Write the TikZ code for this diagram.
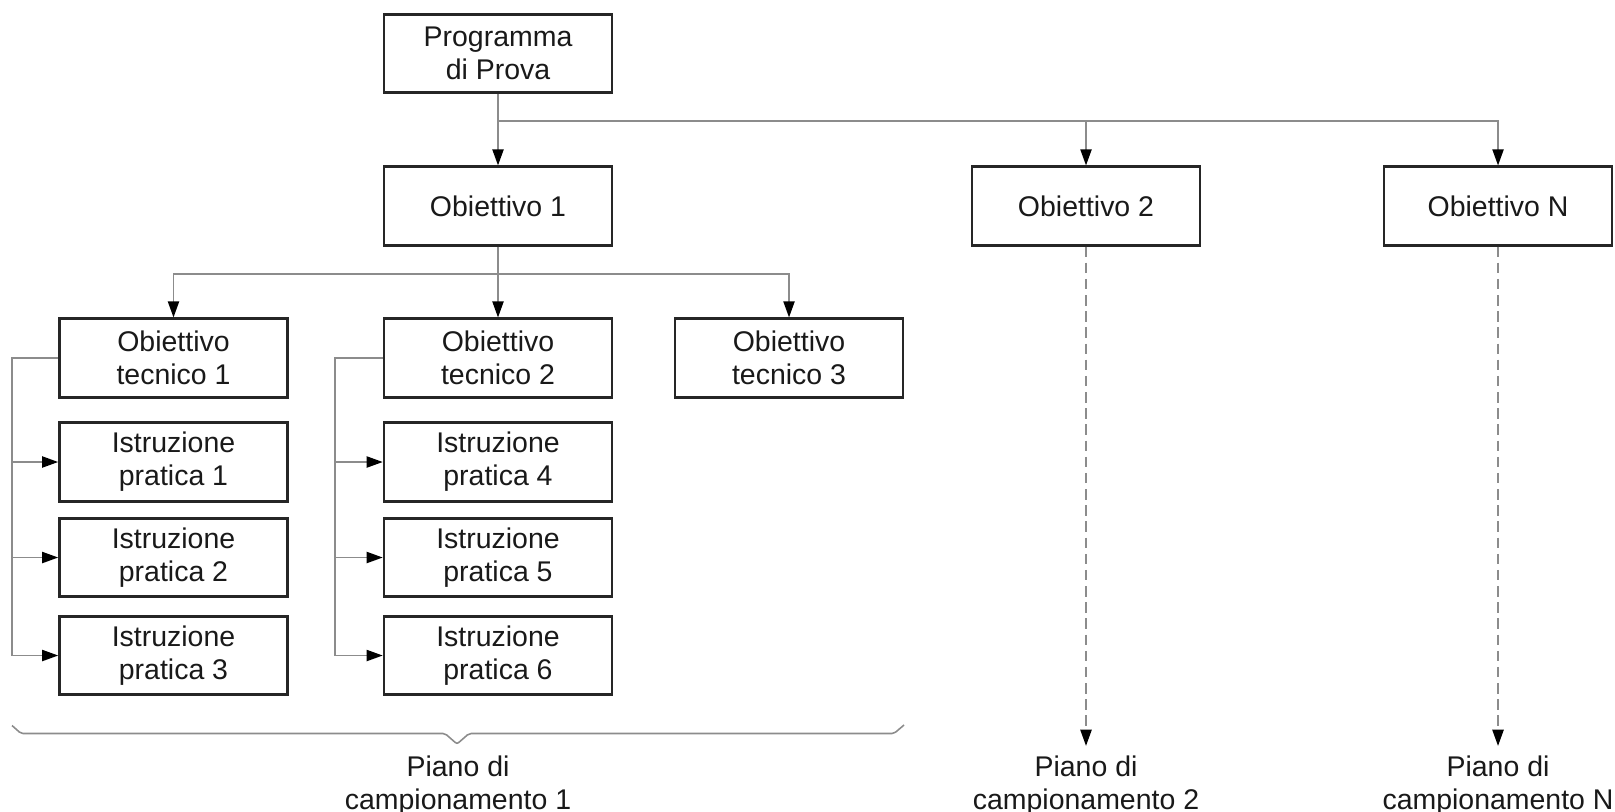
\documentclass[tikz,border=0pt]{standalone}
\usepackage{fontspec}
\setmainfont{Liberation Sans}
\usepackage{tikz}
\usetikzlibrary{arrows.meta,positioning}
\tikzset{
    %Define standard arrow tip
    >={Triangle[length=4.6pt,width=3.2pt,color=black]},
    %Define style for boxes
    obox/.style={
           rectangle,
           draw=black!85, line width=0.75pt,
           minimum width=2.28cm,
           minimum height=0.785cm,
           inner sep=0pt,
           align=center},
    plan/.style={
           inner sep=0pt,
           align=center},
    % Define arrow style
    arr/.style={
           ->,
           draw=black!45,
           line width=0.45pt},
    dashedarr/.style={
           ->,
           draw=black!45,
           line width=0.45pt,
           dash pattern=on 3pt off 1.6pt,
           shorten >=2.6pt},
    bline/.style={
           draw=black!45,
           line width=0.45pt}
}
\begin{document}
\begin{tikzpicture}[font=\fontsize{8.1pt}{9.4pt}\selectfont, text=black!90]
    \useasboundingbox (0,0) rectangle (16.15,-8.11);

    % TOP LEVEL
    \node[obox] at (4.98,-0.535) (prog) {Programma\\di Prova};
    \node[obox] at (4.98,-2.06) (ob1) {Obiettivo 1};
    \node[obox] at (10.86,-2.06) (ob2) {Obiettivo 2};
    \node[obox] at (14.98,-2.06) (obN) {Obiettivo N};
    \coordinate (j0) at (4.98,-1.21);

    \draw[arr] (prog) -- (ob1);
    \draw[arr] (j0) -| (ob2);
    \draw[arr] (j0) -| (obN);

    % TECHNICAL OBJECTIVES
    \node[obox] at (1.735,-3.58) (ot1) {Obiettivo\\tecnico 1};
    \node[obox] at (4.98,-3.58) (ot2) {Obiettivo\\tecnico 2};
    \node[obox] at (7.89,-3.58) (ot3) {Obiettivo\\tecnico 3};
    \coordinate (j1) at (4.98,-2.74);

    \draw[arr] (ob1) -- (ot2);
    \draw[arr] (j1) -| (ot1);
    \draw[arr] (j1) -| (ot3);

    % PRACTICAL INSTRUCTIONS
    \foreach \i/\y in {1/-4.62,2/-5.575,3/-6.555} {
        \node[obox] at (1.735,\y) (ip\i) {Istruzione\\pratica \i};
    }
    \foreach \i/\y in {4/-4.62,5/-5.575,6/-6.555} {
        \node[obox] at (4.98,\y) (ip\i) {Istruzione\\pratica \i};
    }
    \coordinate (b1) at (0.12,-3.58);
    \coordinate (b2) at (3.35,-3.58);

    \draw[bline] (ot1.west) -- (b1) -- (b1 |- ip3);
    \draw[bline] (ot2.west) -- (b2) -- (b2 |- ip6);
    \foreach \i in {1,2,3}
        \draw[arr] (b1 |- ip\i) -- (ip\i.west);
    \foreach \i in {4,5,6}
        \draw[arr] (b2 |- ip\i) -- (ip\i.west);

    % SAMPLING PLANS
    \coordinate (br1) at (0.12,-7.255);
    \coordinate (br2) at (9.04,-7.25);
    \coordinate (brtip) at (4.57,-7.44);
    \draw[bline, rounded corners=0.6pt]
        (br1) -- (0.21,-7.335) -- (4.45,-7.335) -- (brtip)
        -- (4.69,-7.335) -- (8.94,-7.335) -- (br2);

    \node[plan, anchor=north] at (4.58,-7.55) (pc1) {Piano di\\campionamento 1};
    \node[plan, anchor=north] at (10.86,-7.55) (pc2) {Piano di\\campionamento 2};
    \node[plan, anchor=north] at (14.98,-7.55) (pcN) {Piano di\\campionamento N};

    \draw[dashedarr] (ob2) -- (pc2);
    \draw[dashedarr] (obN) -- (pcN);

\end{tikzpicture}
\end{document}
